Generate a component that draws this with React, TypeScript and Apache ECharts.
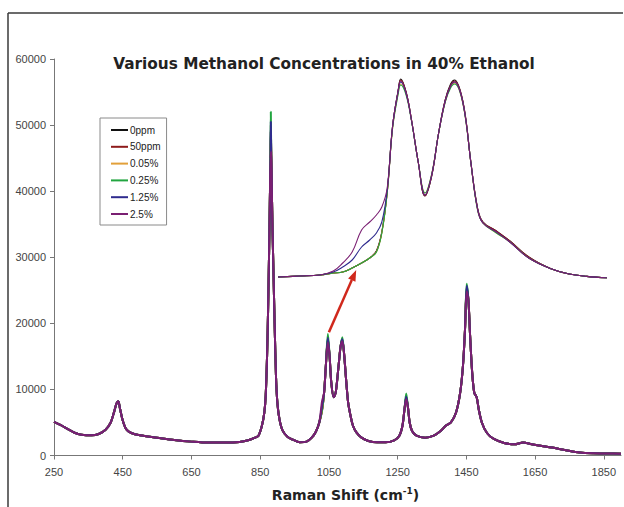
import React, { useEffect, useRef } from 'react';
import * as echarts from 'echarts';

const seriesNames = ['0ppm', '50ppm', '0.05%', '0.25%', '1.25%', '2.5%'];
const seriesColors = ['#111111', '#8e1b1b', '#e2a03a', '#22a540', '#2f2b8e', '#7a1f72'];

const xTicks = [250, 450, 650, 850, 1050, 1250, 1450, 1650, 1850];

// shared spectrum shape [Raman shift, intensity]
const mainSpectrum: [number, number][] = [
  [250, 5100], [270, 4600], [290, 4000], [310, 3450], [330, 3150], [360, 3050], [380, 3250], [400, 3900],
  [415, 5000], [425, 6600], [432, 7900], [437, 8200], [442, 7100], [450, 5300], [460, 4000], [475, 3400],
  [500, 3050], [550, 2700], [600, 2350], [650, 2100], [700, 1950], [750, 1950], [790, 2050], [815, 2300],
  [835, 2700], [845, 3000], [855, 4500], [862, 6500], [866, 9000], [870, 15000], [873, 22000], [876, 31000],
  [878, 38000], [880, 45000], [881, 48000], [882, 46000], [884, 40000], [886, 34000], [889, 27000], [892, 20000],
  [896, 12000], [900, 8000], [906, 5500], [915, 3800], [930, 2800], [945, 2400], [965, 2000], [985, 2100],
  [1000, 2700], [1012, 3600], [1022, 5000], [1030, 7000], [1036, 9500], [1041, 13500], [1047, 17000], [1052, 15000],
  [1057, 11000], [1064, 8800], [1070, 9600], [1078, 13500], [1084, 16500], [1089, 17400], [1094, 15500], [1100, 11500],
  [1106, 8000], [1113, 6000], [1120, 4500], [1130, 3500], [1145, 2700], [1165, 2200], [1190, 2000], [1215, 2000],
  [1240, 2300], [1255, 3000], [1264, 4500], [1270, 7000], [1275, 8700], [1280, 7300], [1285, 5000], [1292, 3700],
  [1305, 3000], [1330, 2700], [1355, 3000], [1375, 3700], [1390, 4500], [1405, 5000], [1420, 6500], [1432, 9500],
  [1440, 13500], [1446, 19000], [1451, 25000], [1456, 23500], [1461, 18000], [1467, 12500], [1473, 9500], [1480, 8800],
  [1486, 7000], [1495, 5000], [1510, 3400], [1530, 2500], [1560, 1900], [1590, 1700], [1615, 1950], [1640, 1700],
  [1670, 1450], [1700, 1200], [1740, 800], [1780, 450], [1820, 330], [1860, 300], [1900, 280],
];

// per-series intensities at the bands where the concentrations differ
const peakShifts = [881, 1030, 1047, 1089, 1275, 1451];
const peaks0ppm = [50000, 6800, 17600, 17500, 8800, 25300];
const peaks50ppm = [49000, 6900, 17500, 17400, 8700, 25100];
const peaks005 = [47500, 6900, 17700, 17500, 8900, 25400];
const peaks025 = [52000, 7000, 18400, 17900, 9400, 26000];
const peaks125 = [50500, 7500, 17800, 17600, 8900, 25700];
const peaks25 = [45000, 8200, 17100, 17300, 8500, 24800];
const peakSets = [peaks0ppm, peaks50ppm, peaks005, peaks025, peaks125, peaks25];

// inset: enlarged 960-1200 region (relative intensity)
const insetShift = [959, 975, 990, 1000, 1007, 1014, 1021, 1027, 1032, 1036, 1040, 1044, 1048, 1050, 1054, 1058, 1063, 1068,
  1073, 1078, 1083, 1087, 1090, 1094, 1098, 1102, 1107, 1111, 1121, 1131, 1145, 1162, 1175, 1188, 1203];
const inset0ppm = [0.5, 1, 1.5, 2.5, 3, 5, 7.5, 10, 13.5, 23, 43, 76, 93.5, 99.5, 93, 79, 58, 41, 51, 72, 89, 97, 99, 94, 81, 58, 35, 28, 23.5, 18.5, 10.5, 4.5, 2, 0.8, 0];
const inset50ppm = [0.5, 1, 1.5, 2.5, 3, 5, 7.5, 10, 13.5, 23, 43, 76, 93, 99, 93, 79, 58, 41, 51, 72, 89, 96.5, 98.5, 94, 81, 58, 35, 28, 23.5, 18.5, 10.5, 4.5, 2, 0.8, 0];
const inset005 = [0.5, 1, 1.5, 2.5, 3, 5, 7.5, 10, 13, 22.5, 42.5, 75, 92, 97, 92, 79, 58, 42.5, 52, 72, 88, 95.5, 97.5, 93, 80, 58, 34, 27.5, 22.5, 18, 10, 4.5, 2, 0.8, 0];
const inset025 = [0.5, 1, 1.5, 2.5, 3, 5, 7.5, 10, 13, 22.5, 42.5, 75, 91.5, 96.5, 91.5, 78.5, 58, 42.5, 52, 72, 88, 95, 97, 93, 80, 58, 34, 27.5, 22.5, 18, 10, 4.5, 2, 0.8, 0];
const inset125 = [0.5, 1, 1.5, 3, 5.5, 9, 15.5, 19, 22.5, 28, 44, 76, 93, 98, 92.5, 79, 58, 41.5, 51.5, 72, 88.5, 96, 98, 93.5, 80.5, 58, 34.5, 27.5, 23, 18, 10, 4.5, 2, 0.8, 0];
const inset25 = [0.5, 1, 1.5, 3.5, 7.5, 13, 24, 28, 31.5, 35.5, 45, 76, 93, 98.5, 92.5, 79, 58, 41.5, 51.5, 72, 88.5, 96, 98, 93.5, 80.5, 58, 34.5, 27.5, 23, 18, 10, 4.5, 2, 0.8, 0];
const insetSets = [inset0ppm, inset50ppm, inset005, inset025, inset125, inset25];

const FONT = 'Liberation Sans, Arial, sans-serif';
const WIDE_FONT = 'DejaVu Sans, Liberation Sans, sans-serif';

export default function App() {
  const ref = useRef<HTMLDivElement>(null);
  useEffect(() => {
    document.body.style.margin = '0';
    const chart = echarts.init(ref.current!, null, { renderer: 'svg' });

    const mainSeries = seriesNames.map((name, s) => ({
      name,
      type: 'line',
      xAxisIndex: 0,
      yAxisIndex: 0,
      symbol: 'none',
      smooth: 0.3,
      color: seriesColors[s],
      lineStyle: { width: 2, color: seriesColors[s] },
      data: mainSpectrum.map(([x, y]) => {
        const k = peakShifts.indexOf(x);
        return [x, k >= 0 ? peakSets[s][k] : y];
      }),
    }));
    const insetSeries = seriesNames.map((name, s) => ({
      name,
      type: 'line',
      xAxisIndex: 1,
      yAxisIndex: 1,
      symbol: 'none',
      smooth: 0.4,
      color: seriesColors[s],
      lineStyle: { width: 1.1, color: seriesColors[s] },
      data: insetShift.map((x, i) => [x, insetSets[s][i]]),
    }));

    chart.setOption({
      animation: false,
      backgroundColor: '#ffffff',
      textStyle: { fontFamily: FONT },
      title: {
        text: 'Various Methanol Concentrations in 40% Ethanol',
        left: 319,
        top: 51,
        textAlign: 'center',
        textStyle: { fontSize: 15.3, fontWeight: 'bold', color: '#222', fontFamily: WIDE_FONT },
      },
      legend: {
        data: seriesNames,
        orient: 'vertical',
        left: 100,
        top: 118,
        icon: 'rect',
        itemWidth: 17,
        itemHeight: 2,
        itemGap: 6.8,
        padding: [7, 6, 6, 11],
        borderColor: '#8a8a8a',
        borderWidth: 1,
        textStyle: { fontSize: 10, color: '#222', fontFamily: FONT, padding: [0, 0, 0, -3] },
      },
      grid: [
        { left: 54, right: 3, top: 59, bottom: 46 },
        { left: 278, right: 17, top: 78, bottom: 229 },
      ],
      xAxis: [
        {
          type: 'value',
          gridIndex: 0,
          min: 250,
          max: 1900,
          axisLine: { show: true, lineStyle: { color: '#777', width: 1 } },
          axisTick: { show: true, length: 4, customValues: xTicks, lineStyle: { color: '#777' } },
          axisLabel: { customValues: xTicks, fontSize: 11, color: '#444', margin: 11, fontFamily: FONT, formatter: (v: number) => String(v) },
          splitLine: { show: false },
          name: 'Raman Shift (cm{sup|-1})',
          nameLocation: 'middle',
          nameGap: 31,
          nameTextStyle: {
            fontSize: 14,
            fontWeight: 'bold',
            color: '#222',
            fontFamily: WIDE_FONT,
            padding: [0, 0, 0, 16],
            rich: { sup: { fontSize: 9, fontWeight: 'bold', fontFamily: WIDE_FONT, verticalAlign: 'top', padding: [0, 0, 8, 0], color: '#222' } },
          },
        },
        {
          type: 'value',
          gridIndex: 1,
          min: 959,
          max: 1203,
          show: false,
          splitLine: { show: false },
        },
      ],
      yAxis: [
        {
          type: 'value',
          gridIndex: 0,
          min: 0,
          max: 60000,
          interval: 10000,
          axisLine: { show: true, lineStyle: { color: '#777', width: 1 } },
          axisTick: { show: true, length: 4, lineStyle: { color: '#777' } },
          axisLabel: { fontSize: 11, color: '#444', margin: 8, fontFamily: FONT, formatter: (v: number) => String(v) },
          splitLine: { show: false },
        },
        {
          type: 'value',
          gridIndex: 1,
          min: 0,
          max: 100,
          show: false,
          splitLine: { show: false },
        },
      ],
      series: [...mainSeries, ...insetSeries],
    });

    const start = chart.convertToPixel({ gridIndex: 0 }, [1050, 18650]) as number[];
    const tip = chart.convertToPixel({ gridIndex: 1 }, [1017, 4]) as number[];
    const dx = tip[0] - start[0];
    const dy = tip[1] - start[1];
    const len = Math.sqrt(dx * dx + dy * dy);
    const ux = dx / len;
    const uy = dy / len;
    const headLen = 11;
    const headW = 4;
    const bx = tip[0] - ux * headLen;
    const by = tip[1] - uy * headLen;
    const arrowColor = '#d0281c';

    chart.setOption({
      graphic: [
        { type: 'line', id: 'frameLeft', shape: { x1: 8, y1: 13, x2: 8, y2: 507 }, style: { stroke: '#3a3a3a', lineWidth: 1.5 } },
        { type: 'line', id: 'frameTop', shape: { x1: 8, y1: 13, x2: 623, y2: 13 }, style: { stroke: '#3a3a3a', lineWidth: 1.5 } },
        { type: 'line', id: 'arrowShaft', shape: { x1: start[0], y1: start[1], x2: bx, y2: by }, style: { stroke: arrowColor, lineWidth: 2.5 } },
        {
          type: 'polygon',
          id: 'arrowHead',
          shape: {
            points: [
              [tip[0], tip[1]],
              [bx - uy * headW, by + ux * headW],
              [bx + uy * headW, by - ux * headW],
            ],
          },
          style: { fill: arrowColor },
        },
      ],
    });

    return () => chart.dispose();
  }, []);
  return <div ref={ref} style={{ width: 624, height: 507 }} />;
}
